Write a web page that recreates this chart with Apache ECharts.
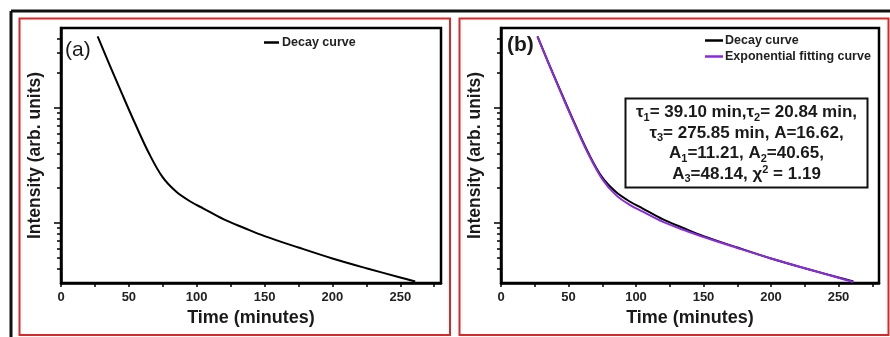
<!DOCTYPE html>
<html>
<head>
<meta charset="utf-8">
<script src="https://cdn.jsdelivr.net/npm/echarts@6/dist/echarts.min.js"></script>
<style>
  html, body { margin: 0; padding: 0; background: #fff; }
  #chart { width: 890px; height: 337px; }
</style>
</head>
<body>
<div id="chart"></div>
<script>
// decay data (time in minutes, intensity in arb. units, log scale)
const timeMin = [27, 35, 45, 55, 65, 75, 85, 95, 105, 120, 135, 150, 175, 200, 225, 250, 261];
const decayCurve = [4169, 2483, 1318, 711, 398, 248, 186, 154, 133, 107, 90.2, 76.7, 61.0, 49.0, 40.3, 33.5, 30.9];
const fitCurve = [4169, 2470, 1300, 700, 390, 240, 175, 144, 125, 102, 87, 75.2, 60.5, 49.0, 40.3, 33.3, 30.6];

const xLabels = [0, 50, 100, 150, 200, 250];
const xTicks = [0, 25, 50, 75, 100, 125, 150, 175, 200, 225, 250, 275];
const yMajor = [100, 1000];
const yMinor = [40, 50, 60, 70, 80, 90, 200, 300, 400, 500, 600, 700, 800, 900, 2000, 3000, 4000];

const pairs = (xs, ys) => xs.map((x, i) => [x, ys[i]]);

const FONT = '"Liberation Sans", Arial, sans-serif';
const RED = '#d8282a';

var myChart = echarts.init(document.getElementById('chart'));

function xAxisFor(gridIndex) {
  return {
    type: 'value', gridIndex: gridIndex, min: 0, max: 280,
    name: 'Time (minutes)', nameLocation: 'middle', nameGap: 23,
    nameTextStyle: { fontFamily: FONT, fontWeight: 'bold', fontSize: 18, color: '#1a1a1a' },
    axisLine: { lineStyle: { color: '#000', width: 2.5 } },
    axisTick: { customValues: xTicks, length: 4, lineStyle: { color: '#000', width: 1.5 } },
    axisLabel: { customValues: xLabels, margin: 8, fontFamily: FONT, fontWeight: 'bold', fontSize: 13, color: '#222' },
    splitLine: { show: false }
  };
}

function yAxesFor(gridIndex) {
  return [
    {
      type: 'log', gridIndex: gridIndex, position: 'left', min: 30, max: 4930, logBase: 10,
      name: 'Intensity (arb. units)', nameLocation: 'middle', nameGap: 17, nameRotate: 90,
      nameTextStyle: { fontFamily: FONT, fontWeight: 'bold', fontSize: 17.5, color: '#1a1a1a' },
      axisLine: { show: true, lineStyle: { color: '#000', width: 2.5 } },
      axisTick: { customValues: yMajor, length: 7, lineStyle: { color: '#000', width: 1.5 } },
      axisLabel: { show: false },
      splitLine: { show: false }
    },
    {
      type: 'log', gridIndex: gridIndex, position: 'left', offset: 0, min: 30, max: 4930, logBase: 10,
      axisLine: { show: false },
      axisTick: { customValues: yMinor, length: 4, lineStyle: { color: '#000', width: 1.5 } },
      axisLabel: { show: false },
      splitLine: { show: false }
    }
  ];
}

function frame(x, y, w, h) {
  return { type: 'rect', silent: true, shape: { x: x, y: y, width: w, height: h },
    style: { fill: null, stroke: RED, lineWidth: 2 } };
}

const lineOpts = { smooth: 0.35, showSymbol: false };

myChart.setOption({
  animation: false,
  backgroundColor: '#fff',
  grid: [
    { left: 61, top: 28, width: 380, height: 255, show: true, borderColor: '#000', borderWidth: 2.5 },
    { left: 501, top: 28, width: 378, height: 255, show: true, borderColor: '#000', borderWidth: 2.5 }
  ],
  xAxis: [xAxisFor(0), xAxisFor(1)],
  yAxis: yAxesFor(0).concat(yAxesFor(1)),
  legend: [
    {
      data: ['Decay curve'], left: 259, top: 31, icon: 'rect', itemWidth: 15, itemHeight: 2.5, itemGap: 4,
      textStyle: { fontFamily: FONT, fontWeight: 'bold', fontSize: 12.5, color: '#222', padding: [0, 0, 0, -2] }
    },
    {
      data: ['Decay curve', 'Exponential fitting curve'], left: 700, top: 29, orient: 'vertical',
      icon: 'rect', itemWidth: 18, itemHeight: 2.5, itemGap: 3,
      textStyle: { fontFamily: FONT, fontWeight: 'bold', fontSize: 12.5, color: '#222', padding: [0, 0, 0, -3] }
    }
  ],
  graphic: [
    // outer black frame
    { type: 'line', silent: true, shape: { x1: 11, y1: 11, x2: 890, y2: 11 }, style: { stroke: '#111', lineWidth: 3 } },
    { type: 'line', silent: true, shape: { x1: 11, y1: 11, x2: 11, y2: 337 }, style: { stroke: '#111', lineWidth: 3 } },
    frame(19.5, 18.5, 430.5, 316.5),
    frame(459.5, 18.5, 429, 316.5),
    { type: 'text', silent: true, left: 65, top: 40,
      style: { text: '(a)', font: '21px ' + FONT, fill: '#1a1a1a' } },
    { type: 'text', silent: true, left: 507, top: 35,
      style: { text: '(b)', font: 'bold 21px ' + FONT, fill: '#1a1a1a' } },
    { type: 'rect', silent: true, z: 10, shape: { x: 625.5, y: 98.5, width: 242, height: 89 },
      style: { fill: '#fff', stroke: '#111', lineWidth: 2 } },
    {
      type: 'text', silent: true, z: 11, x: 746.5, y: 143.5,
      style: {
        text: 'τ{s|1}= 39.10 min,τ{s|2}= 20.84 min,\nτ{s|3}= 275.85 min, A=16.62,\nA{s|1}=11.21, A{s|2}=40.65,\nA{s|3}=48.14, χ{p|2} = 1.19',
        align: 'center', verticalAlign: 'middle',
        font: 'bold 17px ' + FONT, fill: '#1a1a1a', lineHeight: 20.5,
        rich: {
          s: { fontFamily: FONT, fontWeight: 'bold', fontSize: 11, fill: '#1a1a1a', verticalAlign: 'bottom', lineHeight: 20.5 },
          p: { fontFamily: FONT, fontWeight: 'bold', fontSize: 11, fill: '#1a1a1a', verticalAlign: 'top', lineHeight: 20.5 }
        }
      }
    }
  ],
  series: [
    Object.assign({
      name: 'Decay curve', type: 'line', xAxisIndex: 0, yAxisIndex: 0,
      data: pairs(timeMin, decayCurve),
      lineStyle: { color: '#000', width: 2 }, itemStyle: { color: '#000' }
    }, lineOpts),
    Object.assign({
      name: 'Decay curve', type: 'line', xAxisIndex: 1, yAxisIndex: 2,
      data: pairs(timeMin, decayCurve),
      lineStyle: { color: '#000', width: 2 }, itemStyle: { color: '#000' }
    }, lineOpts),
    Object.assign({
      name: 'Exponential fitting curve', type: 'line', xAxisIndex: 1, yAxisIndex: 2,
      data: pairs(timeMin, fitCurve),
      lineStyle: { color: '#8a2be2', width: 2 }, itemStyle: { color: '#8a2be2' }
    }, lineOpts)
  ]
});
</script>
</body>
</html>
